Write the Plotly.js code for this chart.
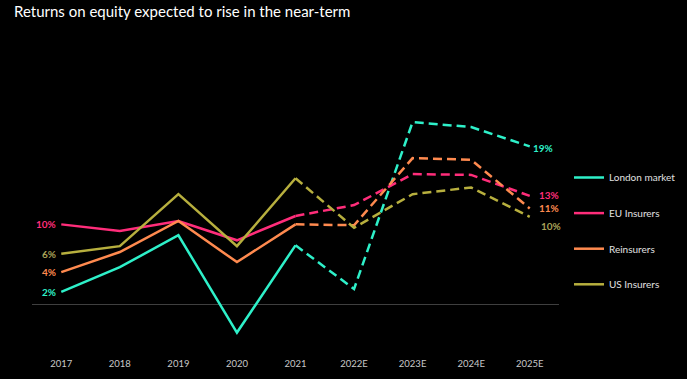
<!DOCTYPE html>
<html>
<head>
<meta charset="utf-8">
<script src="https://cdn.plot.ly/plotly-3.0.1.min.js"></script>
<style>html,body{margin:0;padding:0;background:#000;}#chart{width:687px;height:379px;}</style>
</head>
<body>
<div id="chart"></div>
<script>
const years = ["2017","2018","2019","2020","2021","2022E","2023E","2024E","2025E"];
const londonMarket = [1.55, 4.5, 8.3, -3.3, 7.1, 1.9, 21.8, 21.2, 18.9];
const euInsurers   = [9.6, 8.8, 10.0, 7.7, 10.6, 11.9, 15.6, 15.5, 13.0];
const reinsurers   = [3.9, 6.3, 10.0, 5.1, 9.6, 9.5, 17.5, 17.3, 11.5];
const usInsurers   = [6.1, 7.0, 13.2, 7.0, 15.1, 9.2, 13.2, 14.0, 10.5];
const seriesNames  = ["London market", "EU Insurers", "Reinsurers", "US Insurers"];
const startLabels  = ["2%", "10%", "4%", "6%"];
const endLabels    = ["19%", "13%", "11%", "10%"];
const lastActual = 4; // index of 2021

const colors = ["#2EF0C9", "#FF2D7A", "#FF8A4F", "#B7AF3E"];
const labelColors = ["#2EF0C9", "#FF2D7A", "#FF8A4F", "#A9A258"];
const allSeries = [londonMarket, euInsurers, reinsurers, usInsurers];

const traces = [];
allSeries.forEach((vals, i) => {
  traces.push({
    x: years.slice(0, lastActual + 1), y: vals.slice(0, lastActual + 1),
    type: "scatter", mode: "lines", name: seriesNames[i],
    legendgroup: "g" + i, line: {color: colors[i], width: 2.5},
    hoverinfo: "skip"
  });
  traces.push({
    x: years.slice(lastActual), y: vals.slice(lastActual),
    type: "scatter", mode: "lines", name: seriesNames[i], showlegend: false,
    legendgroup: "g" + i, line: {color: colors[i], width: 2.5, dash: "9px,5px"},
    hoverinfo: "skip"
  });
});

const annotations = [];
const endShift = [[1, -2], [7, 1], [7, 0], [9, -9]];
const lastIdx = years.length - 1;
allSeries.forEach((vals, i) => {
  annotations.push({
    x: 0, y: vals[0], xref: "x", yref: "y", text: "<b>" + startLabels[i] + "</b>",
    showarrow: false, xanchor: "right", xshift: -3,
    font: {family: "Lato, 'Open Sans', sans-serif", size: 10, color: labelColors[i]}
  });
  annotations.push({
    x: lastIdx, y: vals[lastIdx], xref: "x", yref: "y",
    text: "<b>" + endLabels[i] + "</b>",
    showarrow: false, xanchor: "left", xshift: endShift[i][0], yshift: endShift[i][1],
    font: {family: "Lato, 'Open Sans', sans-serif", size: 10, color: labelColors[i]}
  });
});

const layout = {
  width: 687, height: 379,
  paper_bgcolor: "#000", plot_bgcolor: "#000",
  margin: {l: 32, r: 128, t: 112, b: 28, pad: 0, autoexpand: false},
  title: {
    text: "Returns on equity expected to rise in the near-term",
    x: 14 / 687, xanchor: "left", xref: "container",
    y: 1 - 6 / 379, yanchor: "top", yref: "container",
    font: {family: "Lato, 'Open Sans', sans-serif", size: 15, color: "#ffffff"}
  },
  xaxis: {
    type: "category", range: [-0.5, 8.5], showgrid: false, zeroline: false,
    showline: false, ticks: "", ticklabelstandoff: 5, automargin: false,
    tickfont: {family: "Lato, 'Open Sans', sans-serif", size: 9.5, color: "#c8c8c8"},
    fixedrange: true
  },
  yaxis: {
    range: [-5.5, 23], showgrid: false, showticklabels: false, ticks: "",
    zeroline: true, zerolinecolor: "#3f3f3f", zerolinewidth: 1,
    showline: false, fixedrange: true, automargin: false
  },
  showlegend: true,
  legend: {
    xref: "container", yref: "container",
    x: 569 / 687, xanchor: "left", y: 1 - 163 / 379, yanchor: "top",
    bgcolor: "rgba(0,0,0,0)", traceorder: "grouped", tracegroupgap: 16.6,
    itemwidth: 30,
    font: {family: "Lato, 'Open Sans', sans-serif", size: 10, color: "#e0e0e0"}
  },
  annotations: annotations,
  hovermode: false
};

Plotly.newPlot("chart", traces, layout, {displayModeBar: false, staticPlot: true});
</script>
</body>
</html>
